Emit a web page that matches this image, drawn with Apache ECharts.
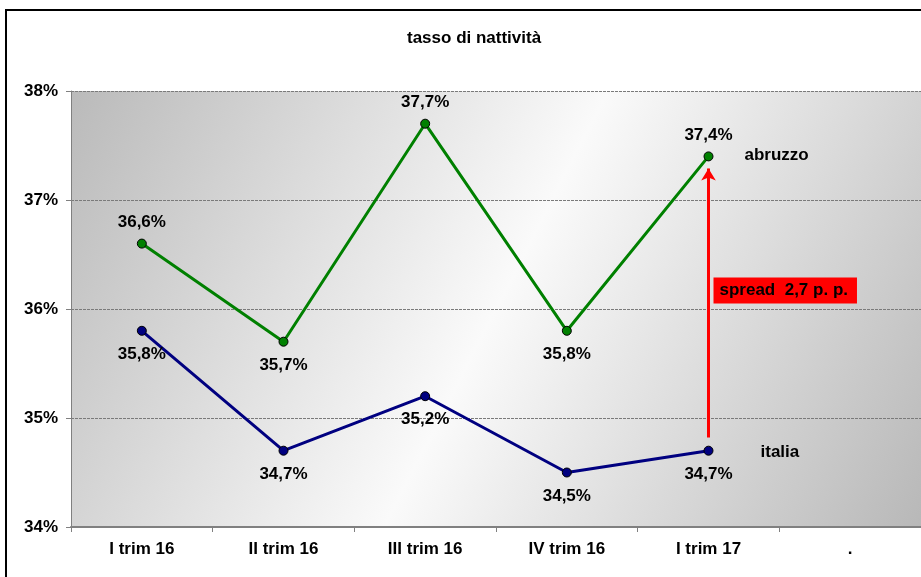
<!DOCTYPE html>
<html>
<head>
<meta charset="utf-8">
<script src="https://cdn.jsdelivr.net/npm/echarts@6/dist/echarts.min.js"></script>
<style>
    html, body { margin: 0; padding: 0; background: #fff; }
    #chart { width: 921px; height: 577px; }
</style>
</head>
<body>
<div id="chart"></div>
<script>
const categories = ['I trim 16', 'II trim 16', 'III trim 16', 'IV trim 16', 'I trim 17', '.'];
const abruzzo = [36.6, 35.7, 37.7, 35.8, 37.4];
const italia = [35.8, 34.7, 35.2, 34.5, 34.7];
const abruzzoLabelSide = ['top', 'bottom', 'top', 'bottom', 'top'];
const spreadFrom = 34.82;
const spreadTo = 37.29;
const spreadLabelAt = 36.17;
const spreadText = 'spread  2,7 p. p.';

const font = 'Arial, "Liberation Sans", sans-serif';
const pct = (v) => v.toFixed(1).replace('.', ',') + '%';

const chartDom = document.getElementById('chart');
const myChart = echarts.init(chartDom);

const labelStyle = {
    show: true,
    fontFamily: font,
    fontWeight: 'bold',
    fontSize: 17,
    color: '#000',
    formatter: (p) => pct(p.value),
};

const option = {
    animation: false,
    title: {
        text: 'tasso di nattività',
        left: 402,
        top: 25,
        textStyle: { fontFamily: font, fontWeight: 'bold', fontSize: 17, color: '#000' },
    },
    graphic: [
        {
            type: 'rect',
            shape: { x: 6, y: 10, width: 940, height: 600 },
            style: { fill: 'none', stroke: '#000', lineWidth: 2 },
            z: 100,
        },
    ],
    grid: {
        left: 71,
        right: -2,
        top: 91,
        bottom: 50,
        show: true,
        borderWidth: 0,
        backgroundColor: {
            type: 'linear',
            x: 0, y: 0, x2: 1, y2: 1,
            colorStops: [
                { offset: 0, color: '#bababa' },
                { offset: 0.5, color: '#fafafa' },
                { offset: 1, color: '#b8b8b8' },
            ],
        },
    },
    xAxis: {
        type: 'category',
        data: categories,
        boundaryGap: true,
        axisLine: { lineStyle: { color: '#808080', width: 2 } },
        axisTick: { show: true, length: 5, lineStyle: { color: '#808080' } },
        axisLabel: {
            margin: 14,
            fontFamily: font,
            fontWeight: 'bold',
            fontSize: 17,
            color: '#000',
        },
    },
    yAxis: {
        type: 'value',
        min: 34,
        max: 38,
        interval: 1,
        axisLine: { show: true, lineStyle: { color: '#808080' } },
        axisTick: { show: true, length: 5, lineStyle: { color: '#808080' } },
        splitLine: { lineStyle: { color: '#7a7a7a', type: [3, 1] } },
        axisLabel: {
            margin: 13,
            fontFamily: font,
            fontWeight: 'bold',
            fontSize: 17,
            color: '#000',
            formatter: (v) => v + '%',
        },
    },
    series: [
        {
            name: 'abruzzo',
            type: 'line',
            data: abruzzo.map((v, i) => ({
                value: v,
                label: {
                    position: abruzzoLabelSide[i],
                    distance: abruzzoLabelSide[i] === 'top' ? 8 : 10,
                },
            })),
            symbol: 'circle',
            symbolSize: 9,
            lineStyle: { color: '#008000', width: 3 },
            itemStyle: { color: '#008000', borderColor: '#000', borderWidth: 1 },
            label: labelStyle,
            endLabel: {
                show: true,
                formatter: 'abruzzo',
                offset: [28, -1],
                fontFamily: font,
                fontWeight: 'bold',
                fontSize: 17,
                color: '#000',
            },
            z: 3,
        },
        {
            name: 'italia',
            type: 'line',
            data: italia,
            symbol: 'circle',
            symbolSize: 9,
            lineStyle: { color: '#000080', width: 3 },
            itemStyle: { color: '#000080', borderColor: '#000', borderWidth: 1 },
            label: { ...labelStyle, position: 'bottom', distance: 10 },
            endLabel: {
                show: true,
                formatter: 'italia',
                offset: [44, 2],
                fontFamily: font,
                fontWeight: 'bold',
                fontSize: 17,
                color: '#000',
            },
            markLine: {
                silent: true,
                symbol: ['none', 'arrow'],
                symbolSize: [11, 12],
                label: { show: false },
                lineStyle: { color: '#ff0000', width: 3, type: 'solid' },
                data: [[
                    { coord: [categories[4], spreadFrom] },
                    { coord: [categories[4], spreadTo] },
                ]],
            },
            markPoint: {
                silent: true,
                symbol: 'circle',
                symbolSize: 0,
                data: [{ coord: [categories[4], spreadLabelAt] }],
                label: {
                    show: true,
                    position: 'right',
                    distance: 5,
                    formatter: spreadText,
                    backgroundColor: '#ff0000',
                    padding: [5, 9, 4, 6],
                    fontFamily: font,
                    fontWeight: 'bold',
                    fontSize: 17,
                    color: '#000',
                },
            },
            z: 3,
        },
    ],
};

myChart.setOption(option);
</script>
</body>
</html>
